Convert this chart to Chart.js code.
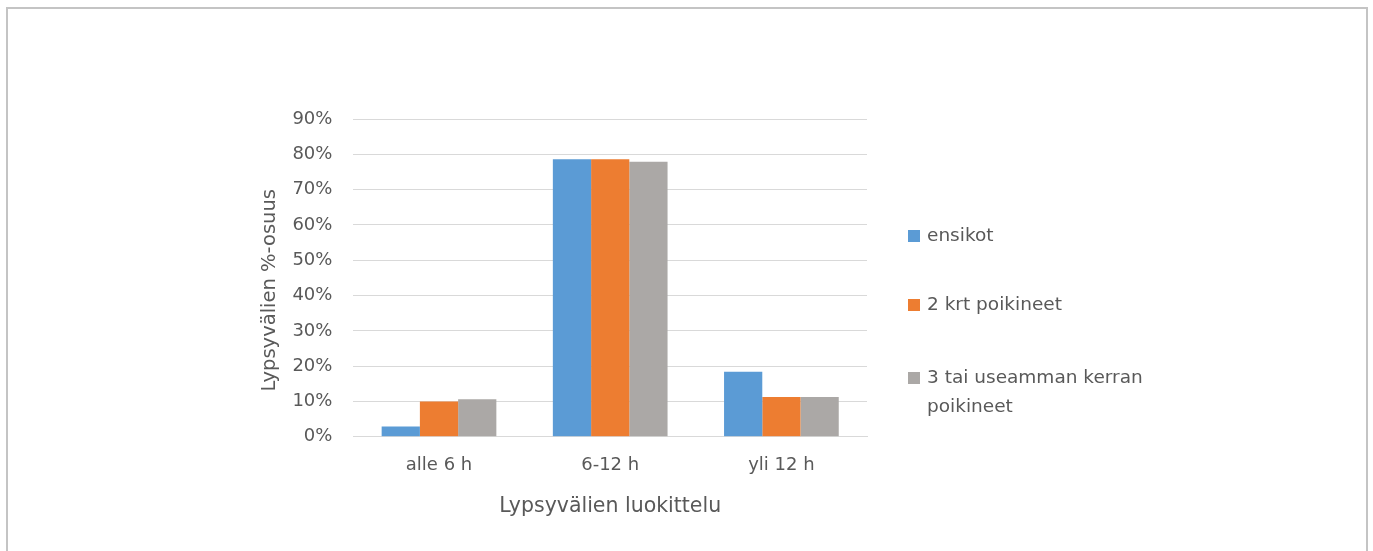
<!DOCTYPE html>
<html>
<head>
<meta charset="utf-8">
<script src="https://cdn.jsdelivr.net/npm/chart.js@4/dist/chart.umd.min.js"></script>
<style>
  html, body { margin: 0; padding: 0; background: #fff; }
  #frame {
    position: absolute; left: 6px; top: 7px; width: 1358px; height: 560px;
    border: 2px solid #c4c4c4; border-bottom: none;
  }
  #wrap { position: absolute; left: 0; top: 0; width: 1373px; height: 551px; }
</style>
</head>
<body>
<div id="frame"></div>
<div id="wrap"><canvas id="chart" width="1373" height="551"></canvas></div>
<script>
const categories = ['alle 6 h', '6-12 h', 'yli 12 h'];
const seriesNames = ['ensikot', '2 krt poikineet', '3 tai useamman kerran poikineet'];
const ensikot = [2.9, 78.6, 18.4];
const krt2 = [10.0, 78.6, 11.3];
const krt3 = [10.6, 77.9, 11.3];
const yTicks = [0, 10, 20, 30, 40, 50, 60, 70, 80, 90];

const colors = ['#5B9BD5', '#ED7D31', '#ABA8A6'];
const textColor = '#595959';
const fontFamily = '"DejaVu Sans", sans-serif';

// legend on the right, drawn by hand so the long label can wrap like in the original
const sideLegend = {
  id: 'sideLegend',
  afterDraw(chart) {
    const ctx = chart.ctx;
    ctx.save();
    ctx.font = '18.5px ' + fontFamily;
    ctx.textBaseline = 'middle';
    let y = 236;
    chart.data.datasets.forEach((ds, i) => {
      // wrap words to max width
      const words = ds.label.split(' ');
      const lines = [];
      let cur = '';
      words.forEach(w => {
        const test = cur ? cur + ' ' + w : w;
        if (ctx.measureText(test).width > 240 && cur) { lines.push(cur); cur = w; }
        else cur = test;
      });
      lines.push(cur);
      if (i > 0) y += 69 + (lines.length - 1) * 4;
      ctx.fillStyle = ds.backgroundColor;
      ctx.fillRect(908, y - 6, 12, 12);
      ctx.fillStyle = textColor;
      lines.forEach((l, j) => ctx.fillText(l, 927, y + j * 29));
    });
    ctx.restore();
  }
};

const ctx = document.getElementById('chart').getContext('2d');
new Chart(ctx, {
  type: 'bar',
  data: {
    labels: categories,
    datasets: [
      {label: seriesNames[0], data: ensikot, backgroundColor: colors[0]},
      {label: seriesNames[1], data: krt2, backgroundColor: colors[1]},
      {label: seriesNames[2], data: krt3, backgroundColor: colors[2]}
    ]
  },
  options: {
    responsive: false,
    animation: false,
    devicePixelRatio: 1,
    layout: {padding: {left: 258, right: 506, top: 119, bottom: 32}},
    plugins: {
      legend: {display: false},
      tooltip: {enabled: false}
    },
    datasets: {bar: {categoryPercentage: 0.67, barPercentage: 1.0}},
    scales: {
      x: {
        grid: {display: false, drawTicks: false},
        border: {color: '#d9d9d9', width: 1},
        ticks: {color: textColor, font: {family: fontFamily, size: 18}, padding: 18},
        title: {display: true, text: 'Lypsyvälien luokittelu', color: textColor,
                font: {family: fontFamily, size: 20.5}, padding: {top: 0, bottom: 0}}
      },
      y: {
        min: 0, max: 90,
        afterBuildTicks: axis => { axis.ticks = yTicks.map(v => ({value: v})); },
        grid: {color: '#d9d9d9', drawTicks: false},
        border: {display: false},
        ticks: {color: textColor, font: {family: fontFamily, size: 18}, padding: 21,
                callback: v => v + '%'},
        // trailing spaces push the title a bit lower, as in the original
        title: {display: true, text: 'Lypsyvälien %-osuus    ', color: textColor,
                font: {family: fontFamily, size: 19.5}, padding: {top: 0, bottom: -10}}
      }
    }
  },
  plugins: [sideLegend]
});
</script>
</body>
</html>
